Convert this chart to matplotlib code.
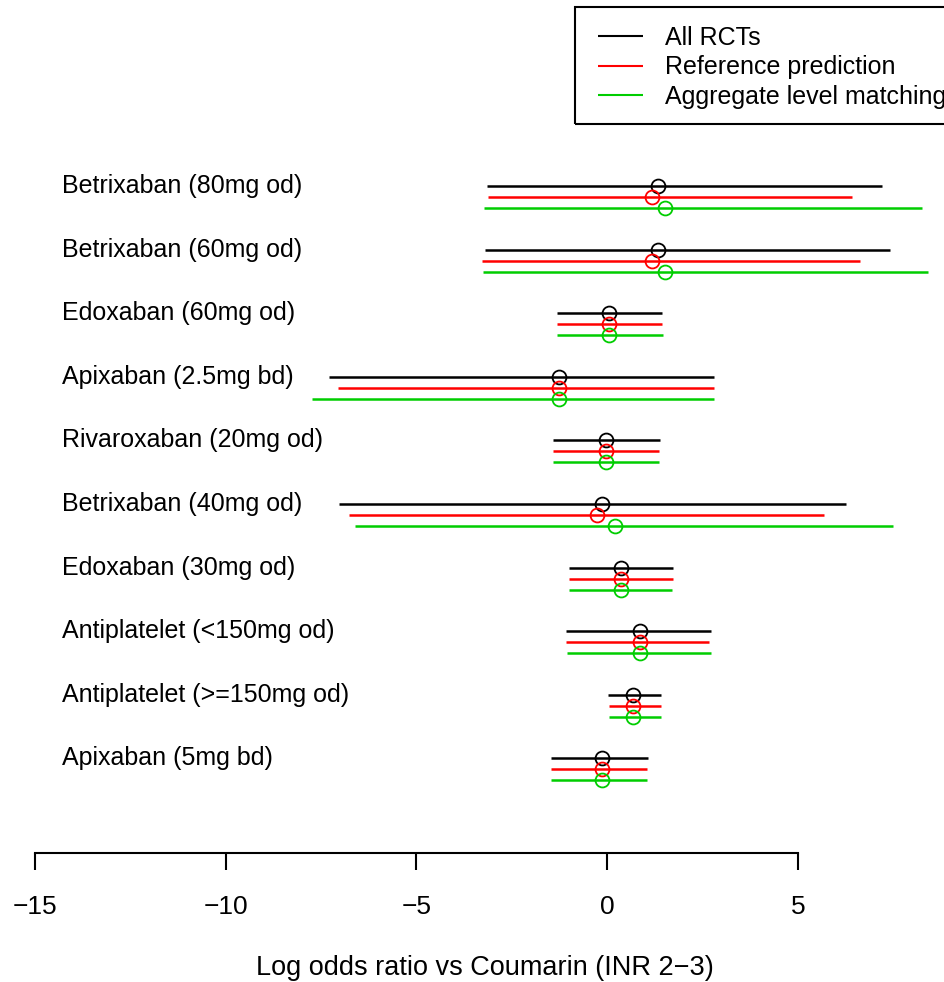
"""
Forest plot: log odds ratio vs Coumarin (INR 2-3) for each treatment,
three estimates per treatment (all RCTs, reference prediction, aggregate level matching).
"""

import matplotlib
matplotlib.use("Agg")
import matplotlib.pyplot as plt
from matplotlib.patches import Rectangle

plt.rcParams["font.family"] = ["Liberation Sans", "DejaVu Sans"]

# -------------------------------------------------------------------
# Data
# -------------------------------------------------------------------
treatments = [
    "Betrixaban (80mg od)",
    "Betrixaban (60mg od)",
    "Edoxaban (60mg od)",
    "Apixaban (2.5mg bd)",
    "Rivaroxaban (20mg od)",
    "Betrixaban (40mg od)",
    "Edoxaban (30mg od)",
    "Antiplatelet (<150mg od)",
    "Antiplatelet (>=150mg od)",
    "Apixaban (5mg bd)",
]

series_names = ["All RCTs", "Reference prediction", "Aggregate level matching"]
series_colors = ["black", "#FF0000", "#00CD00"]

# All RCTs
rct_est = [1.34, 1.34, 0.04, -1.25, -0.03, -0.14, 0.36, 0.87, 0.69, -0.14]
rct_lo = [-3.15, -3.20, -1.32, -7.30, -1.41, -7.03, -1.01, -1.08, 0.03, -1.47]
rct_hi = [7.20, 7.42, 1.44, 2.80, 1.38, 6.25, 1.74, 2.72, 1.42, 1.07]

# Reference prediction
ref_est = [1.18, 1.18, 0.04, -1.25, -0.03, -0.26, 0.36, 0.87, 0.69, -0.14]
ref_lo = [-3.11, -3.27, -1.30, -7.05, -1.41, -6.77, -1.00, -1.08, 0.05, -1.47]
ref_hi = [6.43, 6.63, 1.44, 2.80, 1.36, 5.69, 1.74, 2.66, 1.42, 1.04]

# Aggregate level matching
alm_est = [1.51, 1.53, 0.04, -1.25, -0.03, 0.21, 0.36, 0.87, 0.69, -0.14]
alm_lo = [-3.22, -3.24, -1.32, -7.73, -1.41, -6.60, -1.00, -1.06, 0.05, -1.47]
alm_hi = [8.26, 8.40, 1.46, 2.80, 1.36, 7.49, 1.71, 2.72, 1.42, 1.04]

x_ticks = [-15, -10, -5, 0, 5]
x_label = "Log odds ratio vs Coumarin (INR 2\u22123)"

# -------------------------------------------------------------------
# Figure
# -------------------------------------------------------------------
W, H = 944, 982
fig = plt.figure(figsize=(W / 100, H / 100), dpi=100)
ax = fig.add_axes([0, 1 - 853 / H, 1, 853 / H])
ax.set_xlim(-15.91, 8.83)
ax.set_ylim(10.49, -2.925)

series = [
    (rct_est, rct_lo, rct_hi),
    (ref_est, ref_lo, ref_hi),
    (alm_est, alm_lo, alm_hi),
]
offsets = [0.0, 0.173, 0.346]

for (est, lo, hi), off, col, name in zip(series, offsets, series_colors, series_names):
    ys = [i + off for i in range(len(treatments))]
    ax.hlines(ys, lo, hi, color=col, lw=1.8, label=name)
    ax.plot(est, ys, "o", mfc="none", mec=col, ms=10, mew=1.3, ls="none")

for i, name in enumerate(treatments):
    ax.text(62 / W, i, name, transform=ax.get_yaxis_transform(),
            ha="left", va="center", fontsize=18)

# R-style bottom axis
for side in ["top", "right", "left"]:
    ax.spines[side].set_visible(False)
ax.spines["bottom"].set_bounds(-15, 5)
ax.spines["bottom"].set_linewidth(1.5)
ax.set_xticks(x_ticks)
ax.set_xticklabels([f"{t}".replace("-", "\u2212") for t in x_ticks], fontsize=19)
ax.tick_params(axis="x", length=12, width=1.5, pad=18)
ax.set_yticks([])

fig.text(485 / W, 1 - 968 / H, x_label, ha="center", va="center", fontsize=19.5)

# Legend box drawn by hand (R style, runs off the right edge)
fig.patches.append(Rectangle((575 / W, 1 - 124 / H), 0.5, 117 / H,
                             transform=fig.transFigure, fill=False,
                             edgecolor="black", lw=1.5))
leg = fig.legend(loc="upper left", bbox_to_anchor=(579 / W, 1 - 7 / H),
                 fontsize=18, frameon=False,
                 handlelength=1.8, handletextpad=0.9, borderpad=0.75,
                 labelspacing=0.22, borderaxespad=0)
for line in leg.get_lines():
    line.set_linewidth(1.5)

fig.savefig("out.png", dpi=100)
